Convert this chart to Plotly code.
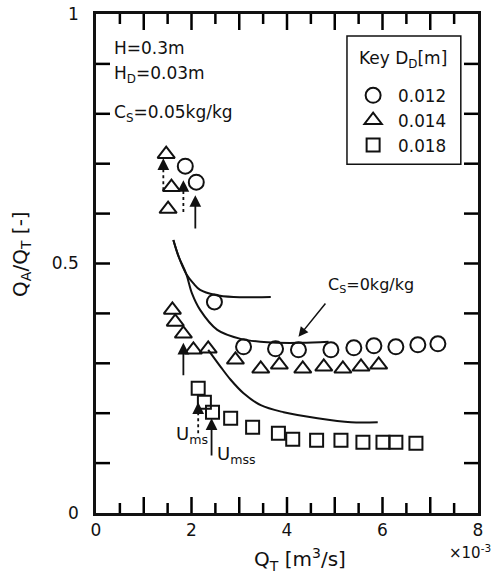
import plotly.graph_objects as go

# ---------------- data ----------------
circle_x = [1.87, 2.10, 2.48, 3.09, 3.76, 4.24, 4.92, 5.40, 5.82, 6.28, 6.74, 7.16]
circle_y = [0.695, 0.663, 0.423, 0.333, 0.329, 0.327, 0.327, 0.331, 0.335, 0.333, 0.337, 0.339]

tri_x = [1.47, 1.58, 1.51, 1.60, 1.66, 1.83, 2.04, 2.35, 2.92, 3.45, 3.84, 4.33, 4.77, 5.17, 5.55, 5.92]
tri_y = [0.719, 0.653, 0.609, 0.407, 0.383, 0.359, 0.327, 0.329, 0.307, 0.289, 0.297, 0.289, 0.293, 0.289, 0.293, 0.297]

sq_x = [2.14, 2.27, 2.44, 2.82, 3.28, 3.82, 4.12, 4.62, 5.13, 5.59, 6.01, 6.28, 6.70]
sq_y = [0.250, 0.222, 0.202, 0.190, 0.172, 0.160, 0.148, 0.146, 0.146, 0.142, 0.142, 0.142, 0.140]

# fitted curves
curve_a_x = [1.62, 1.73, 1.89, 2.04, 2.18, 2.50, 2.88, 3.66]
curve_a_y = [0.547, 0.514, 0.479, 0.460, 0.447, 0.437, 0.433, 0.433]
curve_b_x = [1.62, 1.73, 1.89, 2.01, 2.18, 2.54, 3.03, 3.59, 4.29, 4.87]
curve_b_y = [0.547, 0.514, 0.479, 0.440, 0.407, 0.367, 0.349, 0.342, 0.341, 0.343]
curve_c_x = [2.35, 2.61, 2.82, 3.09, 3.45, 3.93, 4.64, 5.34, 5.90]
curve_c_y = [0.327, 0.293, 0.267, 0.240, 0.216, 0.202, 0.190, 0.182, 0.182]

# arrows: (x, y_tail, y_tip)
solid_arrows = [(2.08, 0.567, 0.637), (1.83, 0.273, 0.341), (2.42, 0.112, 0.190)]
dotted_arrows = [(1.41, 0.647, 0.711), (1.83, 0.603, 0.667), (2.14, 0.160, 0.222)]
cs_arrow = (4.83, 0.423, 4.24, 0.353)

# ticks
x_tickvals = [0, 2, 4, 6, 8]
x_ticktext = ["0", "2", "4", "6", "8"]
x_major_ticks = [1, 2, 3, 4, 5, 6, 7]
x_minor_ticks = [0.5, 1.5, 2.5, 3.5, 4.5, 5.5, 6.5, 7.5]
y_tickvals = [0, 0.5, 1.0]
y_ticktext = ["0", "0.5", "1"]
y_ticks = [0.1, 0.2, 0.3, 0.4, 0.5, 0.6, 0.7, 0.8, 0.9]
X_RANGE = [0, 8]
Y_RANGE = [0, 1]
NB = "\u00a0"

FONT = "DejaVu Sans"
INK = "#111111"

# plot-area size in px (for converting tick lengths)
W, H = 495, 578
ML, MR, MT, MB = 96, 17, 14, 65
PW, PH = W - ML - MR, H - MT - MB
xu = (X_RANGE[1] - X_RANGE[0]) / PW   # data units per px
yu = (Y_RANGE[1] - Y_RANGE[0]) / PH

fig = go.Figure()

for cx, cy in [(curve_a_x, curve_a_y), (curve_b_x, curve_b_y), (curve_c_x, curve_c_y)]:
    fig.add_trace(go.Scatter(x=cx, y=cy, mode="lines", showlegend=False,
                             line=dict(color=INK, width=2, shape="spline", smoothing=1.0),
                             hoverinfo="skip"))

for (ax_, yt, yh) in dotted_arrows:
    fig.add_trace(go.Scatter(x=[ax_, ax_], y=[yt, yh - 0.015], mode="lines", showlegend=False,
                             line=dict(color=INK, width=1.8, dash="dot"), hoverinfo="skip"))

fig.add_trace(go.Scatter(x=circle_x, y=circle_y, mode="markers", name="0.012",
                         marker=dict(symbol="circle-open", size=15, color=INK,
                                     line=dict(width=2, color=INK))))
fig.add_trace(go.Scatter(x=tri_x, y=tri_y, mode="markers", name="0.014",
                         marker=dict(symbol="triangle-up-open", size=15, color=INK,
                                     line=dict(width=2, color=INK))))
fig.add_trace(go.Scatter(x=sq_x, y=sq_y, mode="markers", name="0.018",
                         marker=dict(symbol="square-open", size=13, color=INK,
                                     line=dict(width=2, color=INK))))

# inward tick marks on all four sides, built from the tick arrays
tx, ty = [], []
for vals, length in [(x_major_ticks, 16), (x_minor_ticks, 10)]:
    for v in vals:
        tx += [v, v, None, v, v, None]
        ty += [Y_RANGE[0], Y_RANGE[0] + length * yu, None,
               Y_RANGE[1], Y_RANGE[1] - length * yu, None]
for v in y_ticks:
    tx += [X_RANGE[0], X_RANGE[0] + 14 * xu, None, X_RANGE[1], X_RANGE[1] - 14 * xu, None]
    ty += [v, v, None, v, v, None]
fig.add_trace(go.Scatter(x=tx, y=ty, mode="lines", showlegend=False, hoverinfo="skip",
                         line=dict(color="#000000", width=2.5), connectgaps=False))

ann = []
for (ax_, yt, yh) in solid_arrows:
    ann.append(dict(x=ax_, y=yh, ax=ax_, ay=yt, xref="x", yref="y", axref="x", ayref="y",
                    text="", showarrow=True, arrowhead=2, arrowsize=1.3, arrowwidth=1.8,
                    arrowcolor=INK))
for (ax_, yt, yh) in dotted_arrows:
    ann.append(dict(x=ax_, y=yh, ax=ax_, ay=yh - 0.02, xref="x", yref="y", axref="x", ayref="y",
                    text="", showarrow=True, arrowhead=2, arrowsize=1.3, arrowwidth=1.8,
                    arrowcolor=INK))
ann.append(dict(x=cs_arrow[2], y=cs_arrow[3], ax=cs_arrow[0], ay=cs_arrow[1],
                xref="x", yref="y", axref="x", ayref="y", text="", showarrow=True,
                arrowhead=2, arrowsize=1.3, arrowwidth=1.5, arrowcolor=INK))

def txt(x, y, s, size=17, xanchor="left", xref="x", yref="y", **kw):
    d = dict(x=x, y=y, text=s, xref=xref, yref=yref, showarrow=False, xanchor=xanchor,
             yanchor="middle", font=dict(family=FONT, size=size, color=INK))
    d.update(kw)
    return d

ann += [
    txt(0.34, 0.932, "H=0.3m"),
    txt(0.34, 0.878, "H<sub>D</sub>=0.03m"),
    txt(0.34, 0.800, "C<sub>S</sub>=0.05kg/kg"),
    txt(4.81, 0.455, "C<sub>S</sub>=0kg/kg", size=16),
    txt(1.64, 0.156, "U<sub>ms</sub>", size=18),
    txt(2.50, 0.117, "U<sub>mss</sub>", size=18),
    txt(0.534, -0.094, "Q<sub>T</sub> [m<sup>3</sup>/s]", size=20, xanchor="center",
        xref="paper", yref="paper"),
    txt(-0.198, 0.52, "Q<sub>A</sub>/Q<sub>T</sub> [-]", size=20, xanchor="center",
        xref="paper", yref="paper", textangle=-90),
    txt(0.98, -0.078, "×10<sup>-3</sup>", size=15, xanchor="center",
        xref="paper", yref="paper"),
    # legend key title
    txt(0.682, 0.908, "Key D<sub>D</sub>[m]", size=17, xref="paper", yref="paper"),
]

common_axis = dict(showgrid=False, zeroline=False, showline=True, linewidth=3, linecolor=INK,
                   mirror=True, ticks="", automargin=False)

fig.update_layout(
    width=W, height=H,
    margin=dict(l=ML, r=MR, t=MT, b=MB, autoexpand=False),
    paper_bgcolor="white", plot_bgcolor="white",
    font=dict(family=FONT, size=17, color=INK),
    annotations=ann,
    shapes=[dict(type="rect", xref="paper", yref="paper", x0=0.657, x1=0.955,
                 y0=0.699, y1=0.956, line=dict(color=INK, width=1.5))],
    legend=dict(x=0.66, y=0.872, xanchor="left", yanchor="top",
                bgcolor="rgba(0,0,0,0)", borderwidth=0, itemwidth=40,
                font=dict(family=FONT, size=16.8, color=INK)),
    xaxis=dict(range=X_RANGE, tickvals=x_tickvals, ticktext=x_ticktext,
               tickfont=dict(family=FONT, size=17, color=INK), **common_axis),
    yaxis=dict(range=Y_RANGE, tickvals=y_tickvals,
               ticktext=[t + NB * 2 for t in y_ticktext],
               tickfont=dict(family=FONT, size=17, color=INK), **common_axis),
)

fig.write_html("out.html", config={"displayModeBar": False},
               post_script="document.body.style.margin='0';document.body.style.overflow='hidden';")
